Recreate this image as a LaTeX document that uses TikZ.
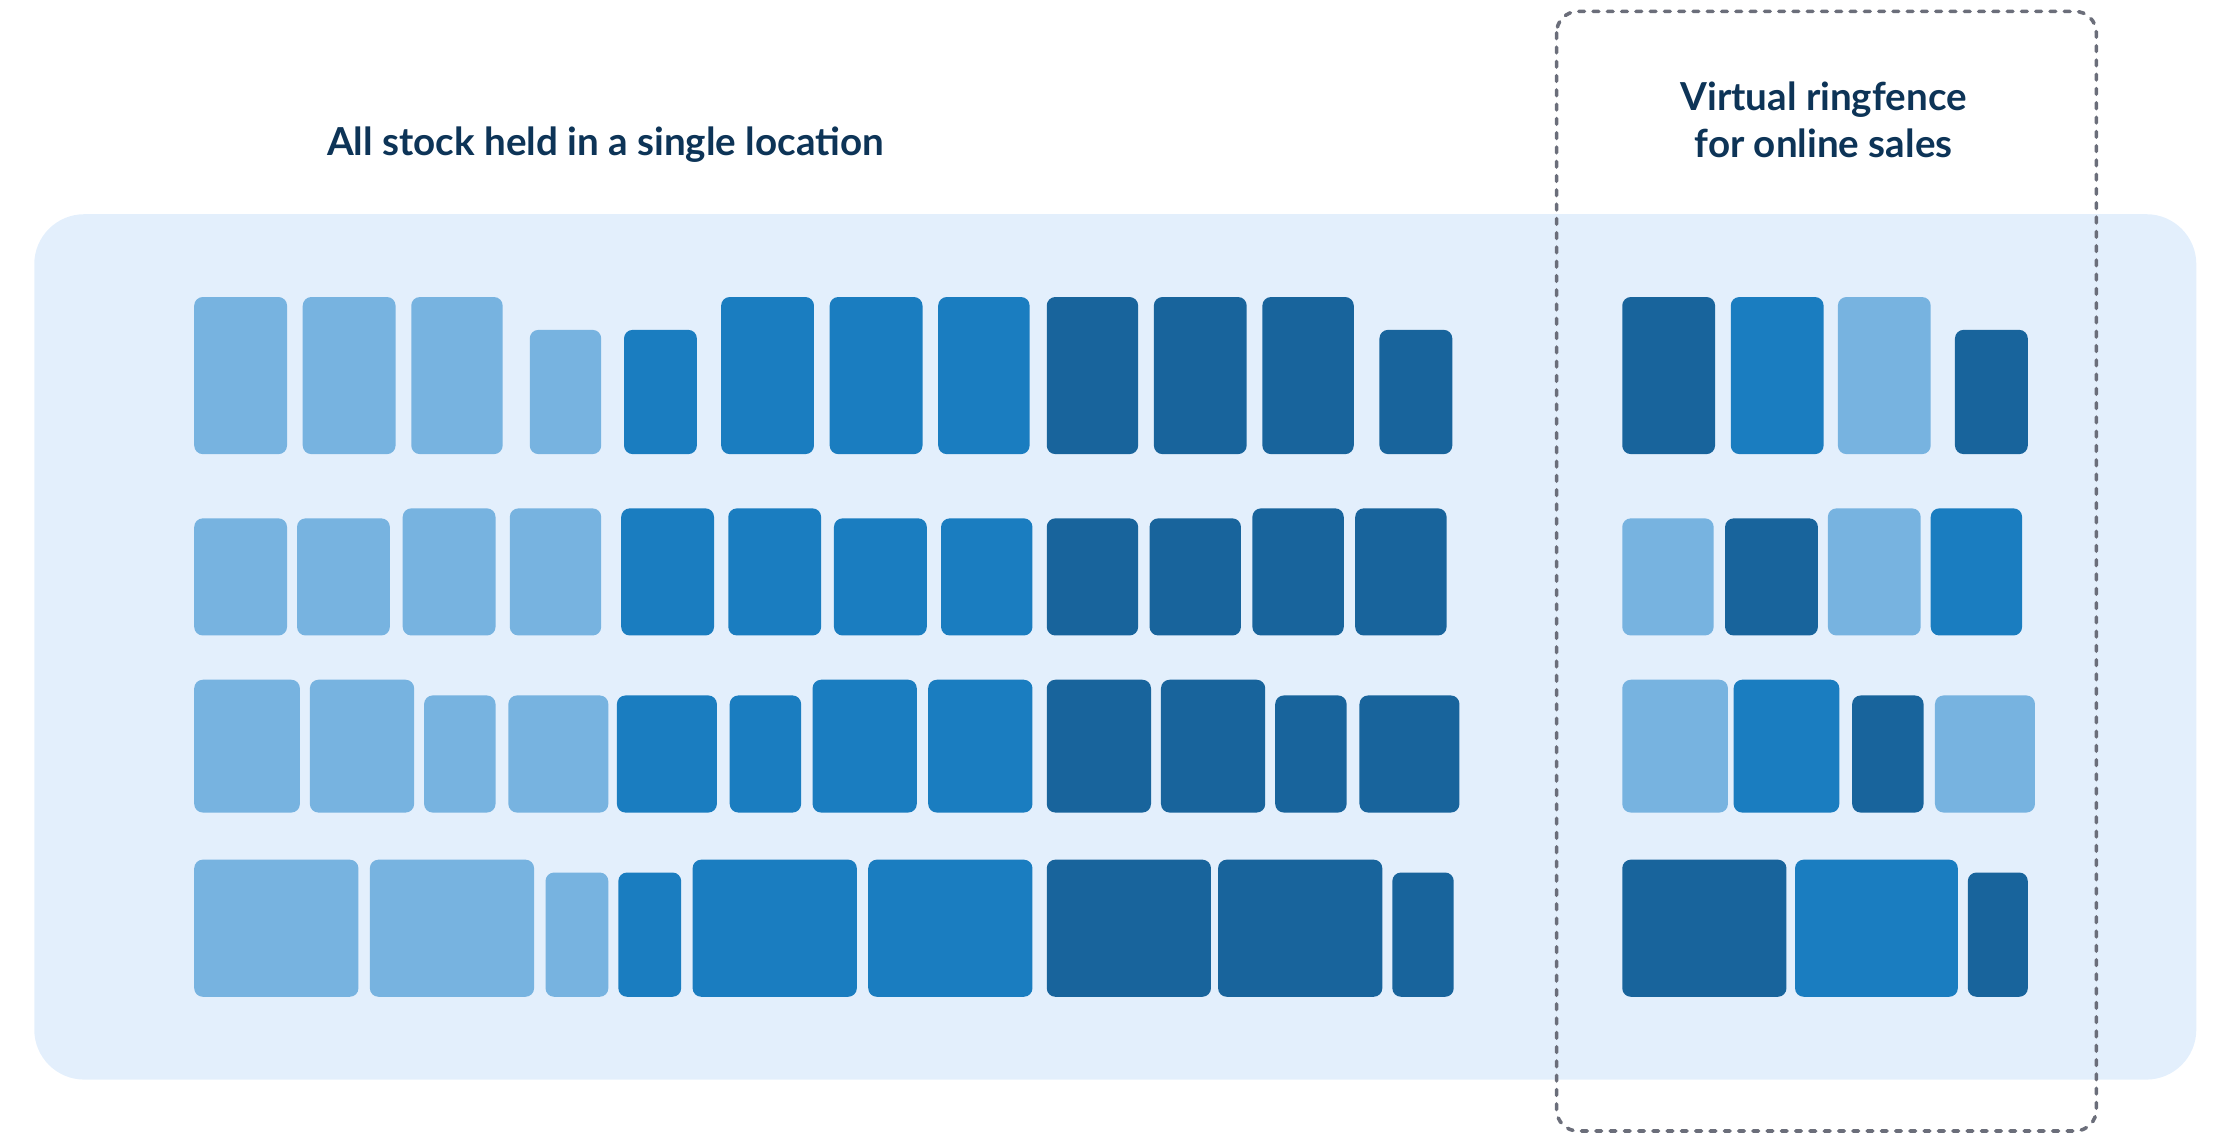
\documentclass[tikz,border=0pt]{standalone}
\usepackage{fontspec}
\setmainfont{Lato}
\definecolor{cL}{HTML}{77B3E0}
\definecolor{cM}{HTML}{1A7DC0}
\definecolor{cD}{HTML}{18649C}
\definecolor{bgc}{HTML}{E3EFFC}
\definecolor{txt}{HTML}{0D3457}
\definecolor{dsh}{HTML}{6B6E7A}
\begin{document}
\begin{tikzpicture}[x=1pt,y=-1pt,
  blk/.style={rounded corners=6pt},
  title/.style={text=txt,font=\fontsize{27}{33}\selectfont\bfseries,align=center}]
\useasboundingbox (0,0) rectangle (1563,797);
\fill[bgc,rounded corners=35pt] (24,150) rectangle (1538,756);
\foreach \a/\b/\t/\bt/\c in {
136/201/208/318/cL,212/277/208/318/cL,288/352/208/318/cL,371/421/231/318/cL,437/488/231/318/cM,505/570/208/318/cM,581/646/208/318/cM,657/721/208/318/cM,733/797/208/318/cD,808/873/208/318/cD,884/948/208/318/cD,966/1017/231/318/cD,
1136/1201/208/318/cD,1212/1277/208/318/cM,1287/1352/208/318/cL,1369/1420/231/318/cD,
136/201/363/445/cL,208/273/363/445/cL,282/347/356/445/cL,357/421/356/445/cL,435/500/356/445/cM,510/575/356/445/cM,584/649/363/445/cM,659/723/363/445/cM,733/797/363/445/cD,805/869/363/445/cD,877/941/356/445/cD,949/1013/356/445/cD,
1136/1200/363/445/cL,1208/1273/363/445/cD,1280/1345/356/445/cL,1352/1416/356/445/cM,
136/210/476/569/cL,217/290/476/569/cL,297/347/487/569/cL,356/426/487/569/cL,432/502/487/569/cM,511/561/487/569/cM,569/642/476/569/cM,650/723/476/569/cM,733/806/476/569/cD,813/886/476/569/cD,893/943/487/569/cD,952/1022/487/569/cD,
1136/1210/476/569/cL,1214/1288/476/569/cM,1297/1347/487/569/cD,1355/1425/487/569/cL,
136/251/602/698/cL,259/374/602/698/cL,382/426/611/698/cL,433/477/611/698/cM,485/600/602/698/cM,608/723/602/698/cM,733/848/602/698/cD,853/968/602/698/cD,975/1018/611/698/cD,
1136/1251/602/698/cD,1257/1371/602/698/cM,1378/1420/611/698/cD}
  \fill[blk,\c] (\a,\t) rectangle (\b,\bt);
\draw[dsh,line width=2.5pt,dash pattern=on 4pt off 6pt,line cap=round,rounded corners=15pt] (1090,8) rectangle (1468,792);
\node[title] (t1) at (424,101) {All stock held in a single location};
\node[title] (t2) at (1277,84) {Virtual ringfence\\for online sales};
\end{tikzpicture}
\end{document}
